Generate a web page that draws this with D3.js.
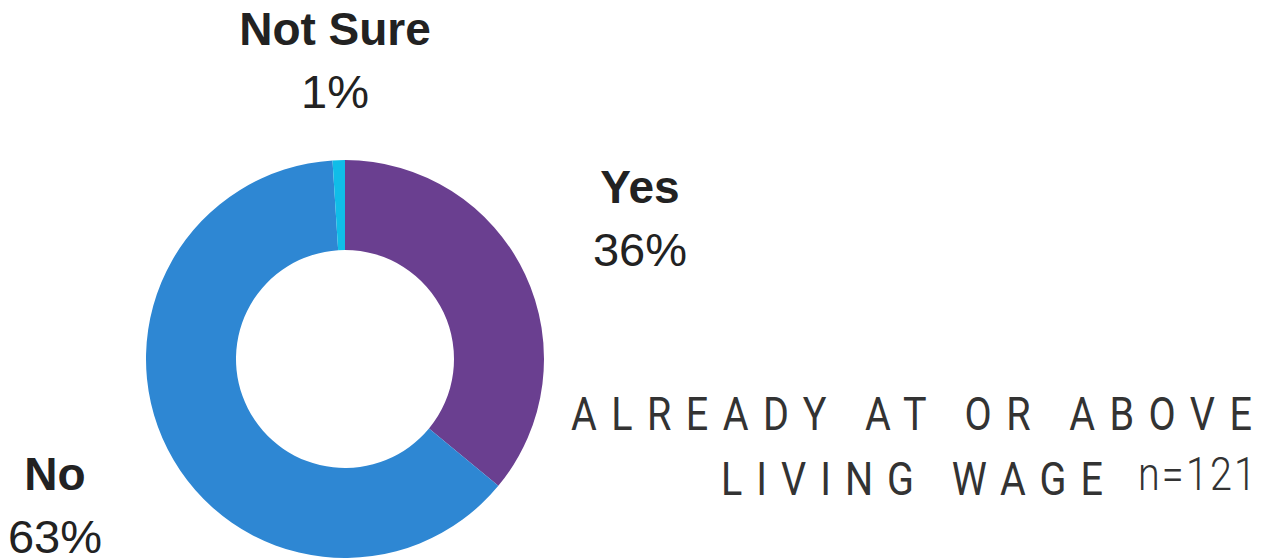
<!DOCTYPE html>
<html>
<head>
<meta charset="utf-8">
<script src="https://cdn.jsdelivr.net/npm/d3@7"></script>
<style>
  body { margin: 0; background: #fff; }
  svg { display: block; }
</style>
</head>
<body>
<svg id="chart" width="1271" height="560"></svg>
<script>
// data
var categories = ["Yes", "No", "Not Sure"];
var values = [36, 63, 1];
var colors = ["#6a3f90", "#2e87d3", "#10bde8"];
// label anchor points (centre x, name baseline)
var labelPos = [[640, 203], [55, 490], [335, 45]];

var svg = d3.select("#chart");
var cx = 345, cy = 359, rOuter = 199, rInner = 109;

var pie = d3.pie().sort(null).value(function(d){ return d; });
var arc = d3.arc().innerRadius(rInner).outerRadius(rOuter);

var g = svg.append("g").attr("transform", `translate(${cx},${cy})`);
g.selectAll("path")
  .data(pie(values))
  .enter().append("path")
  .attr("d", arc)
  .attr("fill", function(d,i){ return colors[i]; });

// slice labels
var lab = svg.append("g").selectAll("g")
  .data(categories)
  .enter().append("g")
  .attr("transform", function(d,i){ return `translate(${labelPos[i][0]},${labelPos[i][1]})`; });
lab.append("text")
  .attr("text-anchor", "middle")
  .style("font-family", "Liberation Sans, Arial, sans-serif")
  .style("font-weight", "bold")
  .style("font-size", "46px")
  .attr("fill", "#222")
  .text(function(d){ return d; });
lab.append("text")
  .attr("text-anchor", "middle")
  .attr("y", 63)
  .style("font-family", "Liberation Sans, Arial, sans-serif")
  .style("font-size", "47px")
  .attr("fill", "#222")
  .text(function(d,i){ return values[i] + "%"; });

// subtitle (condensed, spaced)
var sx = 0.86;
var sub = svg.append("g").attr("transform", `scale(${sx},1)`)
  .style("font-family", "Roboto, sans-serif")
  .attr("fill", "#333");
sub.append("text")
  .attr("x", 1252 / sx).attr("y", 430)
  .attr("text-anchor", "end")
  .style("font-size", "46px")
  .attr("textLength", (1252 - 571) / sx)
  .attr("lengthAdjust", "spacing")
  .text("ALREADY AT OR ABOVE");
sub.append("text")
  .attr("x", 1103 / sx).attr("y", 495)
  .attr("text-anchor", "end")
  .style("font-size", "46px")
  .attr("textLength", (1103 - 721) / sx)
  .attr("lengthAdjust", "spacing")
  .text("LIVING WAGE");
sub.append("text")
  .attr("x", 1256 / sx).attr("y", 490)
  .attr("text-anchor", "end")
  .style("font-size", "46px")
  .style("font-weight", "300")
  .attr("textLength", (1256 - 1138) / sx)
  .attr("lengthAdjust", "spacing")
  .text("n=121");
</script>
</body>
</html>
